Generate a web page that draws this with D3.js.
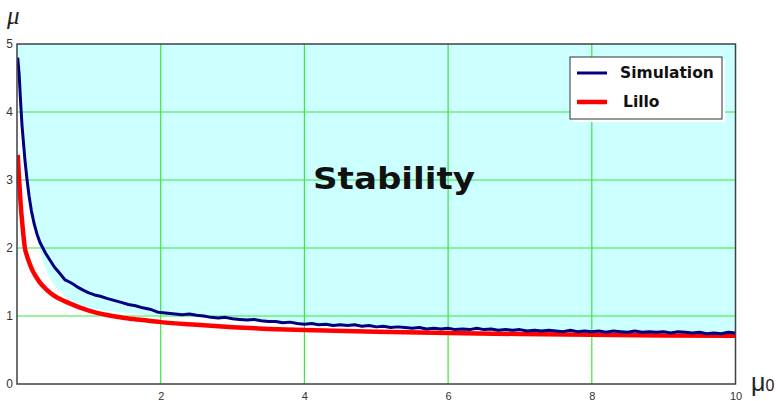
<!DOCTYPE html>
<html>
<head>
<meta charset="utf-8">
<script src="https://cdn.jsdelivr.net/npm/d3@7"></script>
<style>
  body { margin: 0; background: #fff; }
  svg { display: block; }
</style>
</head>
<body>
<svg id="chart"></svg>
<script>
const width = 781;
const height = 401;

// simulation curve (mu vs mu0)
const simX = [0.01,0.03,0.05,0.07,0.09,0.11,0.14,0.17,0.20,0.24,0.28,0.32,0.36,0.40,0.46,0.52,0.60,0.67,0.73,0.78,0.85,0.92,1.00,1.08,1.16,1.25,1.35,1.45,1.55,1.65,1.75,1.85,1.95,
  2.0,2.1,2.2,2.3,2.4,2.5,2.6,2.7,2.8,2.9,3.0,3.1,3.2,3.3,3.4,3.5,3.6,3.7,3.8,3.9,4.0,4.1,4.2,4.3,4.4,4.5,4.6,4.7,4.8,4.9,5.0,5.1,5.2,5.3,5.4,5.5,5.6,5.7,5.8,5.9,
  6.0,6.1,6.2,6.3,6.4,6.5,6.6,6.7,6.8,6.9,7.0,7.1,7.2,7.3,7.4,7.5,7.6,7.7,7.8,7.9,8.0,8.1,8.2,8.3,8.4,8.5,8.6,8.7,8.8,8.9,9.0,9.1,9.2,9.3,9.4,9.5,9.6,9.7,9.8,9.9,10.0];
const simY = [4.80,4.55,4.15,3.80,3.55,3.30,3.00,2.75,2.55,2.35,2.20,2.08,2.00,1.92,1.82,1.72,1.62,1.53,1.50,1.47,1.42,1.38,1.34,1.31,1.29,1.26,1.23,1.20,1.17,1.15,1.12,1.10,1.06,
  1.05,1.04,1.03,1.02,1.03,1.01,1.00,0.98,0.97,0.98,0.96,0.95,0.94,0.95,0.93,0.92,0.92,0.90,0.91,0.89,0.88,0.89,0.87,0.88,0.86,0.87,0.86,0.87,0.85,0.86,0.84,0.85,0.83,0.84,0.83,0.82,0.83,0.81,0.82,0.81,
  0.82,0.80,0.81,0.80,0.82,0.80,0.81,0.79,0.80,0.79,0.80,0.78,0.79,0.78,0.79,0.78,0.77,0.79,0.77,0.78,0.77,0.78,0.76,0.78,0.77,0.76,0.78,0.76,0.77,0.76,0.77,0.75,0.77,0.76,0.75,0.76,0.74,0.75,0.74,0.76,0.75];

// Lillo curve
const lilloX = [0.01,0.02,0.03,0.05,0.07,0.09,0.11,0.14,0.18,0.22,0.27,0.32,0.40,0.50,0.60,0.70,0.80,0.90,1.00,1.25,1.50,1.75,2.0,2.5,3.0,3.5,4.0,5.0,6.0,7.0,8.0,9.0,10.0];
const lilloY = [3.37,3.18,3.00,2.66,2.40,2.18,2.00,1.88,1.76,1.66,1.57,1.49,1.40,1.31,1.25,1.20,1.155,1.115,1.08,1.015,0.97,0.94,0.91,0.87,0.835,0.81,0.795,0.77,0.75,0.735,0.725,0.715,0.71];

// lower edge of the cyan "stability" region
const regionX = [0.0,0.02,0.1,0.2,0.3,0.4,0.5,0.7,1.0,1.5,2.0,2.5,3.0,4.0,5.0,6.0,7.0,8.0,9.0,10.0];
const regionY = [4.85,4.75,3.40,2.50,2.05,1.70,1.48,1.27,1.13,1.05,1.00,0.98,0.94,0.87,0.84,0.81,0.79,0.77,0.76,0.75];

const xTicks = [2,4,6,8,10];
const yTicks = [0,1,2,3,4,5];
const legendItems = ['Simulation','Lillo'];
const legendColors = ['#000080','#ff0000'];

const svg = d3.select('#chart').attr('width',width).attr('height',height);

const xScale = d3.scaleLinear().domain([0,10]).range([17,735.5]);
const yScale = d3.scaleLinear().domain([0,5]).range([384,44]);

svg.append('defs').append('clipPath').attr('id','plot')
  .append('rect').attr('x',17).attr('y',44).attr('width',718.5).attr('height',340);

const plot = svg.append('g').attr('clip-path','url(#plot)');

// stability region
const region = regionX.map((x,i)=>[x,regionY[i]]);
plot.append('path')
  .datum(region)
  .attr('fill','#ccffff')
  .attr('d', d3.area().x(d=>xScale(d[0])).y0(yScale(5)).y1(d=>yScale(d[1])).curve(d3.curveMonotoneX));

// grid
plot.selectAll('.vgrid').data([2,4,6,8]).enter().append('line')
  .attr('x1',d=>xScale(d)).attr('x2',d=>xScale(d))
  .attr('y1',yScale(0)).attr('y2',yScale(5))
  .attr('stroke','#3ce63c').attr('stroke-width',1.2);
plot.selectAll('.hgrid').data([1,2,3,4]).enter().append('line')
  .attr('x1',xScale(0)).attr('x2',xScale(10))
  .attr('y1',d=>yScale(d)).attr('y2',d=>yScale(d))
  .attr('stroke','#3ce63c').attr('stroke-width',1.2);

plot.append('path')
  .datum(lilloX.map((x,i)=>[x,lilloY[i]]))
  .attr('fill','none').attr('stroke','#ff0000').attr('stroke-width',4.5)
  .attr('stroke-linejoin','round')
  .attr('d', d3.line().x(d=>xScale(d[0])).y(d=>yScale(d[1])).curve(d3.curveMonotoneX));

plot.append('path')
  .datum(simX.map((x,i)=>[x,simY[i]]))
  .attr('fill','none').attr('stroke','#000080').attr('stroke-width',3)
  .attr('stroke-linejoin','round')
  .attr('d', d3.line().x(d=>xScale(d[0])).y(d=>yScale(d[1])));

// frame
svg.append('rect').attr('x',17).attr('y',44).attr('width',718.5).attr('height',340)
  .attr('fill','none').attr('stroke','#404040').attr('stroke-width',1.5);

// tick labels
const xAxis = d3.axisBottom(xScale).tickValues(xTicks).tickSize(0).tickPadding(8).tickFormat(d3.format('d'));
svg.append('g').attr('transform','translate(0,384)').call(xAxis)
  .call(g=>g.select('.domain').remove())
  .selectAll('text').attr('font-family','Liberation Sans, Arial, sans-serif').attr('font-size',11).attr('fill','#333');

const yAxis = d3.axisLeft(yScale).tickValues(yTicks).tickSize(0).tickPadding(4).tickFormat(d3.format('d'));
svg.append('g').attr('transform','translate(17,0)').call(yAxis)
  .call(g=>g.select('.domain').remove())
  .selectAll('text').attr('font-family','Liberation Sans, Arial, sans-serif').attr('font-size',12).attr('fill','#333');

// axis titles
svg.append('text').attr('x',7).attr('y',24)
  .attr('font-family','Liberation Serif, Times New Roman, serif').attr('font-style','italic')
  .attr('font-size',25).attr('fill','#222').text('μ');

const mu0 = svg.append('text').attr('x',751).attr('y',391)
  .attr('font-family','Liberation Sans, Arial, sans-serif').attr('fill','#222');
mu0.append('tspan').attr('font-size',25).text('μ');
mu0.append('tspan').attr('font-size',16).text('0');

// region label
svg.append('text').attr('x',394).attr('y',189).attr('text-anchor','middle')
  .attr('font-family','Comic Sans MS, DejaVu Sans, sans-serif').attr('font-weight','bold')
  .attr('font-size',31).attr('textLength',162).attr('lengthAdjust','spacingAndGlyphs')
  .attr('fill','#111').text('Stability');

// legend
const legend = svg.append('g');
legend.append('rect').attr('x',573).attr('y',60).attr('width',152).attr('height',62).attr('fill','#fff');
legend.append('rect').attr('x',570).attr('y',57).attr('width',152).attr('height',62)
  .attr('fill','#fff').attr('stroke','#333').attr('stroke-width',1);
legendItems.forEach((name,i)=>{
  const y = 73 + i*29;
  legend.append('line').attr('x1',577).attr('x2',607).attr('y1',y).attr('y2',y)
    .attr('stroke',legendColors[i]).attr('stroke-width',i===0?3:4.5);
  legend.append('text').attr('x',i===0?620:623).attr('y',y+5)
    .attr('font-family','Comic Sans MS, DejaVu Sans, sans-serif').attr('font-weight','bold')
    .attr('font-size',15.5).attr('fill','#111').text(name);
});
</script>
</body>
</html>
